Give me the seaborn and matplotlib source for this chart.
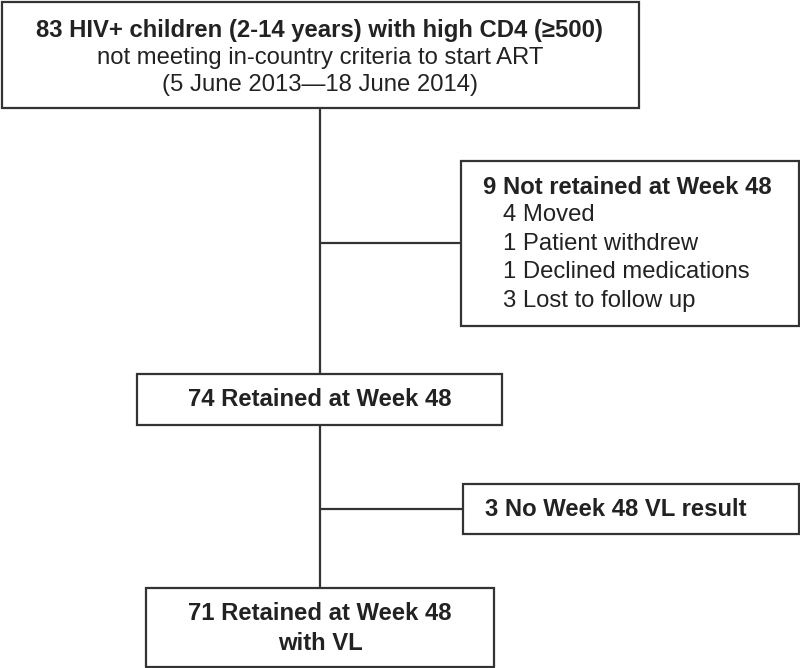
import matplotlib.pyplot as plt
import pandas as pd
import seaborn as sns
from matplotlib.patches import Rectangle

# flow counts and labels
ENROLLED = 83
NOT_RETAINED = 9
REASONS = ["Moved", "Patient withdrew", "Declined medications", "Lost to follow up"]
REASON_COUNTS = [4, 1, 1, 3]
RETAINED = 74
NO_VL = 3
RETAINED_VL = 71

HEADER_SUB = ["not meeting in-country criteria to start ART", "(5 June 2013\u201418 June 2014)"]

LINE_COLOR = "#333333"
TEXT_COLOR = "#222222"
FS = 17.2
LW = 1.6
SPINE_X = 320


def _box(ax, x0, y0, x1, y1):
    ax.add_patch(Rectangle((x0, y0), x1 - x0, y1 - y0, fill=False,
                           edgecolor=LINE_COLOR, linewidth=LW))


def _text(ax, x, y, s, bold=False, ha="center"):
    ax.text(x, y, s, ha=ha, va="center", fontsize=FS, color=TEXT_COLOR,
            fontweight="bold" if bold else "normal")


sns.set_theme(style="white")
plt.rcParams["font.family"] = ["Liberation Sans", "DejaVu Sans"]

fig = plt.figure(figsize=(8, 6.68), dpi=100)
ax = fig.add_axes([0, 0, 1, 1])

# connectors
segments = pd.DataFrame({
    "seg": [0, 0, 1, 1, 2, 2, 3, 3],
    "x": [SPINE_X, SPINE_X, SPINE_X, 461, SPINE_X, SPINE_X, SPINE_X, 463],
    "y": [108, 374, 243, 243, 425, 588, 509, 509],
})
sns.lineplot(segments, x="x", y="y", units="seg", estimator=None, sort=False,
             color=LINE_COLOR, linewidth=LW, ax=ax)
ax.set_xlim(0, 800)
ax.set_ylim(668, 0)
ax.axis("off")

# enrolment box
_box(ax, 2, 2, 639, 108)
_text(ax, SPINE_X, 30, f"{ENROLLED} HIV+ children (2-14 years) with high CD4 (\u2265500)", bold=True)
_text(ax, SPINE_X, 58, HEADER_SUB[0])
_text(ax, SPINE_X, 85, HEADER_SUB[1])

# not retained box
_box(ax, 461, 161, 799, 326)
_text(ax, 483, 187, f"{NOT_RETAINED} Not retained at Week 48", bold=True, ha="left")
for i, (n, reason) in enumerate(zip(REASON_COUNTS, REASONS)):
    _text(ax, 503, 215 + i * 28.7, f"{n} {reason}", ha="left")

# retained box
_box(ax, 137, 374, 502, 425)
_text(ax, SPINE_X, 400, f"{RETAINED} Retained at Week 48", bold=True)

# no VL box
_box(ax, 463, 484, 799, 534)
_text(ax, 485, 509, f"{NO_VL} No Week 48 VL result", bold=True, ha="left")

# final box
_box(ax, 146, 588, 494, 667)
_text(ax, SPINE_X, 614, f"{RETAINED_VL} Retained at Week 48", bold=True)
_text(ax, SPINE_X, 643, "with VL", bold=True)

fig.savefig("out.png", dpi=100, facecolor="white")
